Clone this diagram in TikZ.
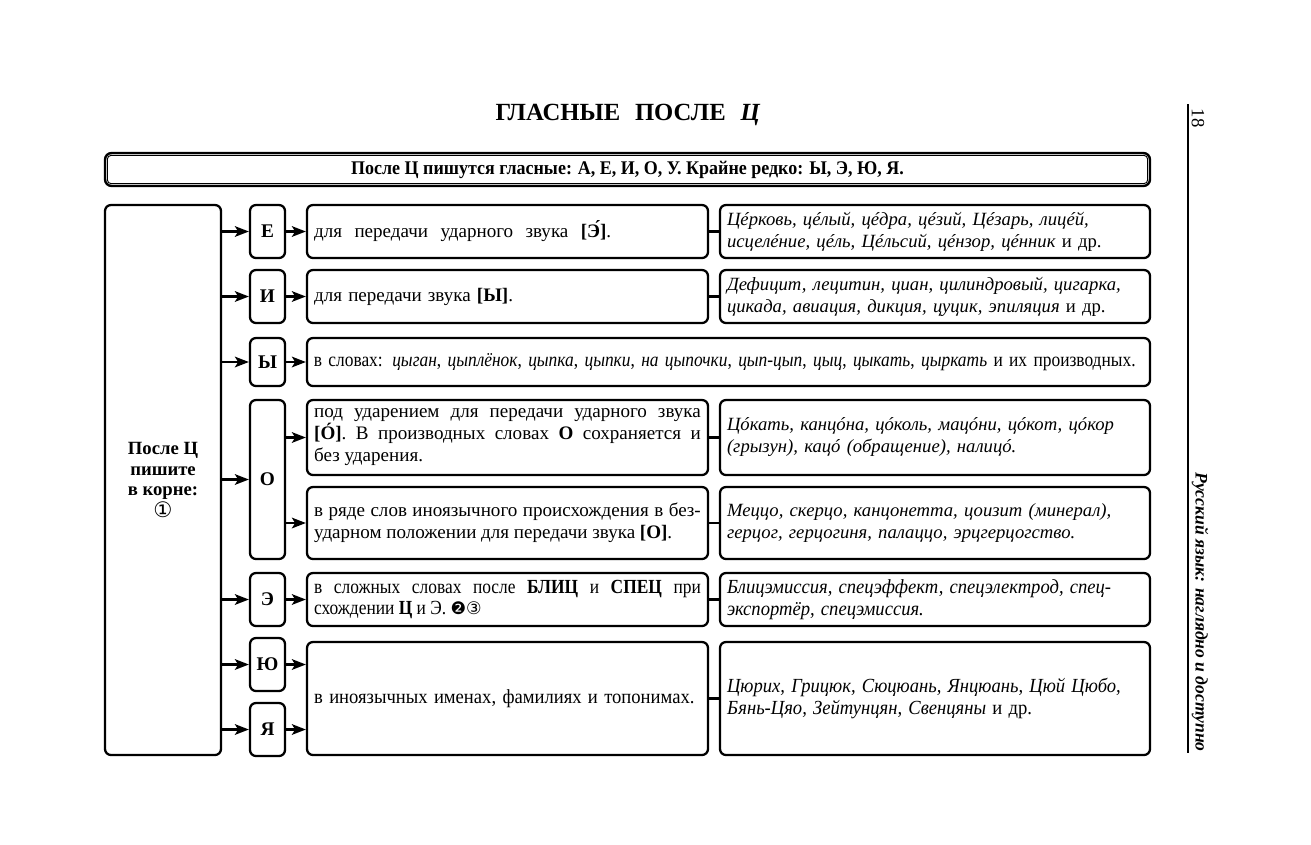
\documentclass[tikz,border=0pt]{standalone}
\usepackage{fontspec}
\setmainfont{Liberation Serif}
\newfontfamily\cond[FakeStretch=0.87]{Liberation Serif}
\newfontfamily\condb[FakeStretch=0.93]{Liberation Serif}
\newfontfamily\dejavu{DejaVu Sans}
\usetikzlibrary{arrows.meta}
\tikzset{
  bx/.style={draw, line width=1.7pt, rounded corners=4.5pt, inner ysep=0pt, inner xsep=5pt, font=\fontsize{14.3}{16.5}\selectfont},
  lbox/.style={bx, inner xsep=0pt, minimum width=26.25pt, minimum height=39.75pt, font=\fontsize{14.5}{16}\selectfont\bfseries},
  mbox/.style={bx, minimum width=300.75pt, text width=290pt, minimum height=39.75pt, align=left},
  rbox/.style={bx, minimum width=322.5pt, text width=312pt, minimum height=39.75pt, align=left, font=\fontsize{14}{16.5}\selectfont},
  arr/.style={line width=1.6pt, -{Stealth[length=10.5pt,width=8pt,inset=2.5pt]}},
  lnk/.style={line width=1.6pt},
}
\begin{document}
\begin{tikzpicture}[x=0.75pt,y=-0.75pt]
\useasboundingbox[fill=white] (0,0) rectangle (1311,844);
% title
\node (title) at (628,115) {\fontsize{18.5}{20}\selectfont\bfseries ГЛАСНЫЕ\hspace{0.6em}ПОСЛЕ\hspace{0.6em}\textit{Ц}};
% header bar
\node[draw, line width=1.8pt, rounded corners=5pt, minimum width=783.75pt, minimum height=24.75pt, inner sep=0pt] (hdr) at (627.5,169.5)
  {\fontsize{14.5}{16}\selectfont\condb\bfseries После Ц пишутся гласные: А, Е, И, О, У. Крайне редко: Ы, Э, Ю, Я.};
\draw[line width=0.7pt, rounded corners=3pt] ([shift={(3.5,3.5)}]hdr.north west) rectangle ([shift={(-3.5,-3.5)}]hdr.south east);
% left box
\node[bx, inner xsep=0pt, minimum width=87pt, minimum height=412.5pt, align=center, font=\fontsize{14}{15.5}\selectfont] (left) at (163,480)
  {\bfseries После Ц\\\bfseries пишите\\\bfseries в корне:\\[1pt]{\dejavu\fontsize{16}{16}\selectfont ①}};
% letter boxes
\node[lbox] (e)  at (267.5,231.5) {Е};
\node[lbox] (i)  at (267.5,296.5) {И};
\node[lbox, minimum height=36pt] (y)  at (267.5,362) {Ы};
\node[lbox, minimum height=119.25pt] (o)  at (267.5,479.5) {О};
\node[lbox] (ee) at (267.5,599.5) {Э};
\node[lbox] (yu) at (267.5,664.5) {Ю};
\node[lbox] (ya) at (267.5,729.5) {Я};
% middle boxes
\node[mbox] (me) at (507.5,231.5) {\spaceskip=0.65em для передачи ударного звука \textbf{[Э́]}.};
\node[mbox] (mi) at (507.5,296.5) {\spaceskip=0.32em для передачи звука \textbf{[Ы]}.};
\node[bx, minimum width=632.25pt, text width=622pt, minimum height=36pt, align=left] (my) at (728.5,362)
  {\fontsize{15}{17}\selectfont\cond\mbox{в словах: \textit{цыган}, \textit{цыплёнок}, \textit{цыпка}, \textit{цыпки}, \textit{на цыпочки}, \textit{цып-цып}, \textit{цыц}, \textit{цыкать}, \textit{цыркать} и их производных.}};
\node[mbox, minimum height=56.25pt, align=justify] (mo1) at (507.5,437.5)
  {под ударением для передачи ударного звука\linebreak \textbf{[Ó]}. В производных словах \textbf{О} сохраняется и\linebreak без ударения.};
\node[mbox, minimum height=54pt, align=justify] (mo2) at (507.5,523)
  {в ряде слов иноязычного происхождения в без-\linebreak ударном положении для передачи звука \textbf{[О]}.};
\node[mbox, align=justify] (mee) at (507.5,599.5)
  {\fontsize{15}{17}\selectfont\cond в сложных словах после \textbf{БЛИЦ} и \textbf{СПЕЦ} при\linebreak схождении \textbf{Ц} и Э. {\dejavu\fontsize{13}{14}\selectfont ❷③}};
\node[mbox, minimum height=84.75pt] (myy) at (507.5,698.5)
  {\fontsize{15}{17}\selectfont\condb в иноязычных именах, фамилиях и топонимах.};
% right boxes
\node[rbox] (re) at (935,231.5)
  {\textit{Цéрковь, цéлый, цéдра, цéзий, Цéзарь, лицéй,}\\\textit{исцелéние, цéль, Цéльсий, цéнзор, цéнник} и др.};
\node[rbox] (ri) at (935,296.5)
  {\textit{Дефицит, лецитин, циан, цилиндровый, цигарка,}\\\textit{цикада, авиация, дикция, цуцик, эпиляция} и др.};
\node[rbox, minimum height=56.25pt] (ro1) at (935,437.5)
  {\textit{Цóкать, канцóна, цóколь, мацóни, цóкот, цóкор}\\\textit{(грызун), кацó (обращение), налицó.}};
\node[rbox, minimum height=54pt] (ro2) at (935,523)
  {\textit{Меццо, скерцо, канцонетта, цоизит (минерал),}\\\textit{герцог, герцогиня, палаццо, эрцгерцогство.}};
\node[rbox] (ree) at (935,599.5)
  {\fontsize{15}{17}\selectfont\condb\textit{Блицэмиссия, спецэффект, спецэлектрод, спец-}\\\textit{экспортёр, спецэмиссия.}};
\node[rbox, minimum height=84.75pt] (ryy) at (935,698.5)
  {\fontsize{15}{17}\selectfont\condb\textit{Цюрих, Грицюк, Сюцюань, Янцюань, Цюй Цюбо,}\\\textit{Бянь-Цяо, Зейтунцян, Свенцяны} и др.};
% arrows from left box
\foreach \n in {e,i,y,o,ee,yu,ya}{
  \draw[arr] (left.east |- \n.west) -- (\n.west);
}
% arrows letter -> middle
\draw[arr] (e.east) -- (me.west);
\draw[arr] (i.east) -- (mi.west);
\draw[arr] (y.east) -- (my.west);
\draw[arr] (o.east |- mo1.west) -- (mo1.west);
\draw[arr] (o.east |- mo2.west) -- (mo2.west);
\draw[arr] (ee.east) -- (mee.west);
\draw[arr] (yu.east) -- (myy.west |- yu.east);
\draw[arr] (ya.east) -- (myy.west |- ya.east);
% links middle -> right
\foreach \a/\b in {me/re, mi/ri, mo1/ro1, mo2/ro2, mee/ree, myy/ryy}{
  \draw[lnk] (\a.east) -- (\b.west);
}
% page margin
\coordinate (mtop) at (1188,104);
\coordinate (mbot) at (1188,753);
\draw[line width=0.8pt] (mtop) -- (mbot);
\node[rotate=-90] (pg) at (1198,118) {\fontsize{14}{16}\selectfont 18};
\node[rotate=-90] (run) at (1200,612) {\fontsize{13.2}{16}\selectfont\bfseries\itshape Русский язык: наглядно и доступно};
\end{tikzpicture}
\end{document}
